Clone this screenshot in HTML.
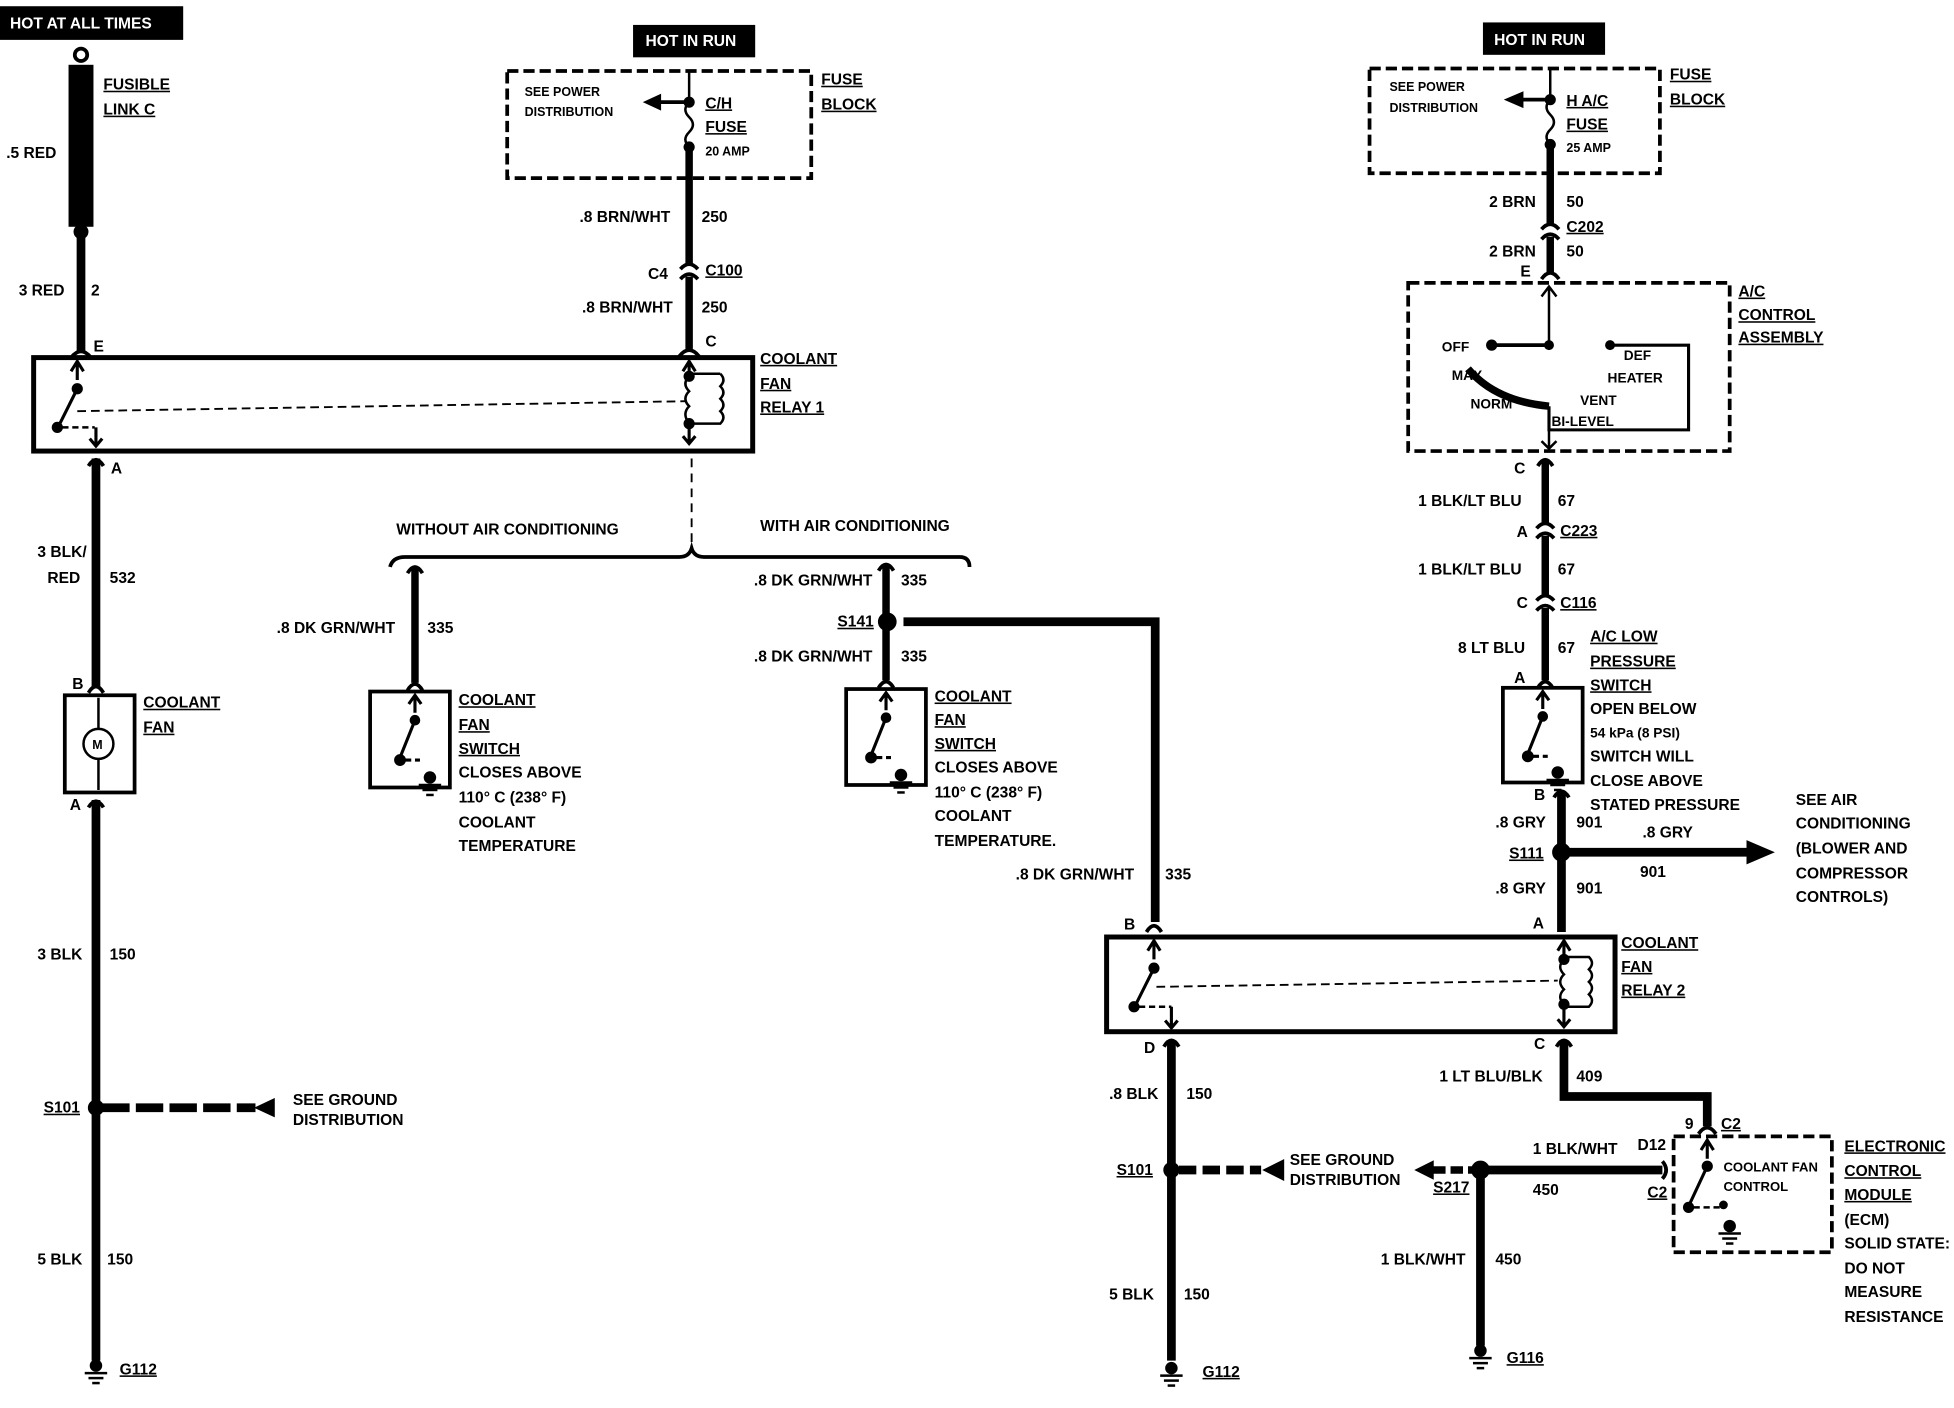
<!DOCTYPE html>
<html><head><meta charset="utf-8"><style>
html,body{margin:0;padding:0;background:#fff}
svg{display:block}
text{font-family:"Liberation Sans",sans-serif;font-weight:bold;font-size:12.5px;fill:#000}
.u{text-decoration:underline}
</style></head><body>
<svg width="1954" height="1408" viewBox="0 0 1568 1130" preserveAspectRatio="none" xmlns="http://www.w3.org/2000/svg">
<defs>
<g id="gnd"><circle cx="0" cy="-6" r="5" fill="#000" stroke="none"/><line x1="-9" y1="0" x2="9" y2="0" stroke="#000" stroke-width="2"/><line x1="-6" y1="4" x2="6" y2="4" stroke="#000" stroke-width="2"/><line x1="-3" y1="8" x2="3" y2="8" stroke="#000" stroke-width="2"/></g>
<g id="conn"><path d="M-8,4 Q0,-6 8,4" fill="none" stroke="#000" stroke-width="3"/></g>
<g id="sw" fill="none" stroke="#000" stroke-width="2.5">
<path d="M0,0 L0,14 M-5,7 L0,0 L5,7"/><circle cx="0" cy="20" r="3" fill="#000"/><path d="M0,20 L-12,50"/><circle cx="-12" cy="52" r="3.5" fill="#000"/><path d="M-8,52 L4,52" stroke-dasharray="5,3"/></g>
</defs>
<g stroke="#000" fill="none">
<rect x="0" y="5" width="147" height="27" fill="#000" stroke="none"/>
<circle cx="65" cy="44" r="5" stroke-width="3"/>
<rect x="55" y="52" width="20" height="130" fill="#000" stroke="none"/>
<circle cx="65" cy="186" r="6" fill="#000" stroke="none"/>
<line x1="65" y1="186" x2="65" y2="282" stroke-width="7"/>
<use href="#conn" x="65" y="283"/>
<rect x="27" y="287" width="577" height="75" stroke-width="4"/>
<line x1="62" y1="330" x2="550" y2="322" stroke-width="1.5" stroke-dasharray="7,4"/>
<path d="M62,290 L62,305 M57,298 L62,290 L67,298" stroke-width="2.5"/>
<circle cx="62" cy="312" r="4" fill="#000"/><line x1="62" y1="312" x2="48" y2="340" stroke-width="2.5"/>
<circle cx="46" cy="343" r="4" fill="#000"/><line x1="50" y1="343" x2="76" y2="343" stroke-width="2" stroke-dasharray="5,3"/>
<path d="M77,343 L77,358 M72,352 L77,358 L82,352" stroke-width="2.5"/>
<path d="M71,374 Q77,364 83,374" stroke-width="3"/>
<line x1="77" y1="368" x2="77" y2="552" stroke-width="7"/>
<path d="M71,556 Q77,546 83,556" stroke-width="3"/>
<rect x="52" y="558" width="56" height="78" stroke-width="3"/>
<circle cx="79" cy="597" r="12" stroke-width="2"/>
<line x1="79" y1="560" x2="79" y2="585" stroke-width="2"/><line x1="79" y1="609" x2="79" y2="634" stroke-width="2"/>
<path d="M71,648 Q77,638 83,648" stroke-width="3"/>
<line x1="77" y1="642" x2="77" y2="1092" stroke-width="7"/>
<circle cx="77" cy="889" r="6" fill="#000"/>
<line x1="82" y1="889" x2="205" y2="889" stroke-width="7" stroke-dasharray="22,5"/>
<path d="M220,882 L205,889 L220,896 Z" fill="#000"/>
<use href="#gnd" x="77" y="1102"/>
<rect x="508" y="20" width="98" height="26" fill="#000" stroke="none"/>
<rect x="407" y="57" width="244" height="86" stroke-width="3" stroke-dasharray="9,4"/>
<line x1="553" y1="57" x2="553" y2="82" stroke-width="2"/>
<circle cx="553" cy="82" r="4" fill="#000"/><circle cx="553" cy="118" r="4" fill="#000"/>
<path d="M553,82 q-6,6 0,12 q6,6 0,12 q-6,6 0,12" stroke-width="2"/>
<line x1="553" y1="82" x2="528" y2="82" stroke-width="3"/><path d="M530,76 L517,82 L530,88 Z" fill="#000"/>
<line x1="553" y1="118" x2="553" y2="212" stroke-width="6"/>
<path d="M546,216 Q553,208 560,216" stroke-width="3"/><path d="M546,224 Q553,216 560,224" stroke-width="3"/>
<line x1="553" y1="222" x2="553" y2="280" stroke-width="6"/>
<use href="#conn" x="553" y="282"/>
<path d="M553,290 L553,305 M548,298 L553,290 L558,298" stroke-width="2.5"/>
<circle cx="553" cy="302" r="4" fill="#000"/><circle cx="553" cy="340" r="4" fill="#000"/>
<path d="M553,302 q-6,6 0,12 q-6,6 0,12 q-6,6 0,14" stroke-width="2"/>
<path d="M553,300 L578,300 M578,300 q5,5 0,10 q5,5 0,10 q5,5 0,10 q5,5 0,10 L553,340" stroke-width="2"/>
<path d="M553,340 L553,356 M548,350 L553,356 L558,350" stroke-width="2.5"/>
<line x1="555" y1="368" x2="555" y2="440" stroke-width="1.5" stroke-dasharray="7,5"/>
<path d="M313,455 Q315,447 325,447 L545,447 Q553,447 555,440 Q557,447 565,447 L770,447 Q778,447 778,455" stroke-width="3"/>
<path d="M327,460 Q333,450 339,460" stroke-width="3"/>
<line x1="333" y1="456" x2="333" y2="548" stroke-width="6"/>
<path d="M327,554 Q333,544 339,554" stroke-width="3"/>
<rect x="297" y="555" width="64" height="77" stroke-width="3"/>
<use href="#sw" x="333" y="558"/>
<use href="#gnd" x="345" y="630"/>
<path d="M705,458 Q711,448 717,458" stroke-width="3"/>
<line x1="711" y1="454" x2="711" y2="546" stroke-width="6"/>
<circle cx="712" cy="499" r="7" fill="#000"/>
<path d="M705,552 Q711,542 717,552" stroke-width="3"/>
<rect x="679" y="553" width="64" height="77" stroke-width="3"/>
<use href="#sw" x="711" y="556"/>
<use href="#gnd" x="723" y="628"/>
<path d="M725,499 L927,499 L927,740" stroke-width="7"/>
<path d="M920,748 Q926,738 932,748" stroke-width="3"/>
<rect x="888" y="752" width="408" height="76" stroke-width="4"/>
<line x1="928" y1="792" x2="1250" y2="787" stroke-width="1.5" stroke-dasharray="7,4"/>
<path d="M926,755 L926,770 M921,763 L926,755 L931,763" stroke-width="2.5"/>
<circle cx="926" cy="777" r="4" fill="#000"/><line x1="926" y1="777" x2="912" y2="805" stroke-width="2.5"/>
<circle cx="910" cy="808" r="4" fill="#000"/><line x1="914" y1="808" x2="940" y2="808" stroke-width="2" stroke-dasharray="5,3"/>
<path d="M940,808 L940,825 M935,819 L940,825 L945,819" stroke-width="2.5"/>
<path d="M1255,755 L1255,770 M1250,763 L1255,755 L1260,763" stroke-width="2.5"/>
<circle cx="1255" cy="770" r="4" fill="#000"/><circle cx="1255" cy="806" r="4" fill="#000"/>
<path d="M1255,770 q-6,6 0,12 q-6,6 0,12 q-6,6 0,12" stroke-width="2"/>
<path d="M1255,768 L1275,768 q5,5 0,10 q5,5 0,10 q5,5 0,10 q5,5 0,10 L1255,808" stroke-width="2"/>
<path d="M1255,808 L1255,824 M1250,818 L1255,824 L1260,818" stroke-width="2.5"/>
<path d="M934,840 Q940,830 946,840" stroke-width="3"/>
<line x1="940" y1="836" x2="940" y2="1092" stroke-width="7"/>
<circle cx="940" cy="939" r="6" fill="#000"/>
<line x1="946" y1="939" x2="1012" y2="939" stroke-width="7" stroke-dasharray="14,5"/>
<path d="M1030,931 L1014,939 L1030,947 Z" fill="#000"/>
<use href="#gnd" x="940" y="1104"/>
<rect x="1190" y="18" width="98" height="26" fill="#000" stroke="none"/>
<rect x="1099" y="55" width="233" height="84" stroke-width="3" stroke-dasharray="9,4"/>
<line x1="1244" y1="55" x2="1244" y2="80" stroke-width="2"/>
<circle cx="1244" cy="80" r="4" fill="#000"/><circle cx="1244" cy="116" r="4" fill="#000"/>
<path d="M1244,80 q-6,6 0,12 q6,6 0,12 q-6,6 0,12" stroke-width="2"/>
<line x1="1244" y1="80" x2="1220" y2="80" stroke-width="3"/><path d="M1222,74 L1208,80 L1222,86 Z" fill="#000"/>
<line x1="1244" y1="116" x2="1244" y2="180" stroke-width="6"/>
<path d="M1237,184 Q1244,176 1251,184" stroke-width="3"/><path d="M1237,192 Q1244,184 1251,192" stroke-width="3"/>
<line x1="1244" y1="190" x2="1244" y2="220" stroke-width="6"/>
<path d="M1237,224 Q1244,214 1251,224" stroke-width="3"/>
<rect x="1130" y="227" width="258" height="135" stroke-width="3" stroke-dasharray="9,4"/>
<path d="M1243,230 L1243,277 M1237,238 L1243,230 L1249,238" stroke-width="2"/>
<line x1="1197" y1="277" x2="1243" y2="277" stroke-width="3"/>
<circle cx="1197" cy="277" r="4" fill="#000"/><circle cx="1243" cy="277" r="3.5" fill="#000"/>
<path d="M1178,296 Q1200,322 1243,326" stroke-width="6"/>
<path d="M1292,277 L1355,277 L1355,345 L1243,345 L1243,326" stroke-width="2.5"/>
<circle cx="1292" cy="277" r="3.5" fill="#000"/>
<path d="M1243,345 L1243,360 M1237,354 L1243,360 L1249,354" stroke-width="2"/>
<path d="M1234,374 Q1240,364 1246,374" stroke-width="3"/>
<line x1="1240" y1="370" x2="1240" y2="420" stroke-width="6"/>
<path d="M1233,424 Q1240,416 1247,424" stroke-width="3"/><path d="M1233,432 Q1240,424 1247,432" stroke-width="3"/>
<line x1="1240" y1="430" x2="1240" y2="478" stroke-width="6"/>
<path d="M1233,482 Q1240,474 1247,482" stroke-width="3"/><path d="M1233,490 Q1240,482 1247,490" stroke-width="3"/>
<line x1="1240" y1="488" x2="1240" y2="546" stroke-width="6"/>
<path d="M1234,552 Q1240,542 1246,552" stroke-width="3"/>
<rect x="1206" y="552" width="64" height="76" stroke-width="3"/>
<use href="#sw" x="1238" y="555"/>
<use href="#gnd" x="1250" y="626"/>
<path d="M1247,640 Q1253,630 1259,640" stroke-width="3"/>
<line x1="1253" y1="636" x2="1253" y2="748" stroke-width="7"/>
<circle cx="1253" cy="684" r="7" fill="#000"/>
<line x1="1258" y1="684" x2="1405" y2="684" stroke-width="7"/>
<path d="M1402,675 L1423,684 L1402,693 Z" fill="#000"/>
<path d="M1249,840 Q1255,830 1261,840" stroke-width="3"/>
<path d="M1255,836 L1255,880 L1370,880 L1370,904" stroke-width="7"/>
<path d="M1363,910 Q1370,900 1377,910" stroke-width="3"/>
<rect x="1343" y="912" width="127" height="93" stroke-width="3" stroke-dasharray="9,4"/>
<path d="M1370,915 L1370,930 M1365,923 L1370,915 L1375,923" stroke-width="2.5"/>
<circle cx="1370" cy="936" r="4" fill="#000"/><line x1="1370" y1="936" x2="1356" y2="966" stroke-width="2.5"/>
<circle cx="1355" cy="969" r="4" fill="#000"/><line x1="1359" y1="969" x2="1380" y2="969" stroke-width="2" stroke-dasharray="5,3"/>
<circle cx="1383" cy="967" r="3" fill="#000"/>
<use href="#gnd" x="1388" y="990"/>
<path d="M1334,932 Q1340,939 1334,946" stroke-width="3"/>
<line x1="1188" y1="939" x2="1334" y2="939" stroke-width="7"/>
<circle cx="1188" cy="939" r="7" fill="#000"/>
<path d="M1150,932 L1136,939 L1150,946 Z" fill="#000"/>
<line x1="1150" y1="939" x2="1182" y2="939" stroke-width="6" stroke-dasharray="10,4"/>
<line x1="1188" y1="939" x2="1188" y2="1080" stroke-width="7"/>
<use href="#gnd" x="1188" y="1090"/>
</g>
<text x="74" y="601" style="font-size:10px">M</text>
<text x="8" y="23" style="fill:#fff">HOT AT ALL TIMES</text>
<text x="83" y="72" class="u">FUSIBLE</text><text x="83" y="92" class="u">LINK C</text>
<text x="5" y="127">.5 RED</text>
<text x="15" y="237">3 RED</text><text x="73" y="237">2</text>
<text x="75" y="282">E</text><text x="89" y="380">A</text>
<text x="30" y="447">3 BLK/</text><text x="38" y="468">RED</text><text x="88" y="468">532</text>
<text x="58" y="553">B</text><text x="115" y="568" class="u">COOLANT</text><text x="115" y="588" class="u">FAN</text>
<text x="56" y="650">A</text>
<text x="30" y="770">3 BLK</text><text x="88" y="770">150</text>
<text x="35" y="893" class="u">S101</text>
<text x="235" y="887">SEE GROUND</text><text x="235" y="903">DISTRIBUTION</text>
<text x="30" y="1015">5 BLK</text><text x="86" y="1015">150</text>
<text x="96" y="1103" class="u">G112</text>
<text x="518" y="37" style="fill:#fff">HOT IN RUN</text>
<text x="421" y="77" style="font-size:10px">SEE POWER</text><text x="421" y="93" style="font-size:10px">DISTRIBUTION</text>
<text x="566" y="87" class="u">C/H</text><text x="566" y="106" class="u">FUSE</text><text x="566" y="125" style="font-size:10px">20 AMP</text>
<text x="659" y="68" class="u">FUSE</text><text x="659" y="88" class="u">BLOCK</text>
<text x="465" y="178">.8 BRN/WHT</text><text x="563" y="178">250</text>
<text x="520" y="224">C4</text><text x="566" y="221" class="u">C100</text>
<text x="467" y="251">.8 BRN/WHT</text><text x="563" y="251">250</text>
<text x="566" y="278">C</text>
<text x="610" y="292" class="u">COOLANT</text><text x="610" y="312" class="u">FAN</text><text x="610" y="331" class="u">RELAY 1</text>
<text x="318" y="429">WITHOUT AIR CONDITIONING</text><text x="610" y="426">WITH AIR CONDITIONING</text>
<text x="222" y="508">.8 DK GRN/WHT</text><text x="343" y="508">335</text>
<text x="368" y="566" class="u">COOLANT</text><text x="368" y="586" class="u">FAN</text><text x="368" y="605" class="u">SWITCH</text>
<text x="368" y="624">CLOSES ABOVE</text><text x="368" y="644">110° C (238° F)</text><text x="368" y="664">COOLANT</text><text x="368" y="683">TEMPERATURE</text>
<text x="605" y="470">.8 DK GRN/WHT</text><text x="723" y="470">335</text>
<text x="672" y="503" class="u">S141</text>
<text x="605" y="531">.8 DK GRN/WHT</text><text x="723" y="531">335</text>
<text x="750" y="563" class="u">COOLANT</text><text x="750" y="582" class="u">FAN</text><text x="750" y="601" class="u">SWITCH</text>
<text x="750" y="620">CLOSES ABOVE</text><text x="750" y="640">110° C (238° F)</text><text x="750" y="659">COOLANT</text><text x="750" y="679">TEMPERATURE.</text>
<text x="815" y="706">.8 DK GRN/WHT</text><text x="935" y="706">335</text>
<text x="902" y="746">B</text><text x="918" y="845">D</text>
<text x="1301" y="761" class="u">COOLANT</text><text x="1301" y="780" class="u">FAN</text><text x="1301" y="799" class="u">RELAY 2</text>
<text x="890" y="882">.8 BLK</text><text x="952" y="882">150</text>
<text x="896" y="943" class="u">S101</text>
<text x="1035" y="935">SEE GROUND</text><text x="1035" y="951">DISTRIBUTION</text>
<text x="890" y="1043">5 BLK</text><text x="950" y="1043">150</text>
<text x="965" y="1105" class="u">G112</text>
<text x="1199" y="36" style="fill:#fff">HOT IN RUN</text>
<text x="1115" y="73" style="font-size:10px">SEE POWER</text><text x="1115" y="90" style="font-size:10px">DISTRIBUTION</text>
<text x="1257" y="85" class="u">H A/C</text><text x="1257" y="104" class="u">FUSE</text><text x="1257" y="122" style="font-size:10px">25 AMP</text>
<text x="1340" y="64" class="u">FUSE</text><text x="1340" y="84" class="u">BLOCK</text>
<text x="1195" y="166">2 BRN</text><text x="1257" y="166">50</text>
<text x="1257" y="186" class="u">C202</text>
<text x="1195" y="206">2 BRN</text><text x="1257" y="206">50</text>
<text x="1220" y="222">E</text>
<text x="1395" y="238" class="u">A/C</text><text x="1395" y="257" class="u">CONTROL</text><text x="1395" y="275" class="u">ASSEMBLY</text>
<text x="1157" y="282" style="font-size:11px">OFF</text><text x="1165" y="305" style="font-size:11px">MAX</text><text x="1180" y="328" style="font-size:11px">NORM</text>
<text x="1303" y="289" style="font-size:11px">DEF</text><text x="1290" y="307" style="font-size:11px">HEATER</text>
<text x="1268" y="325" style="font-size:11px">VENT</text><text x="1245" y="342" style="font-size:11px">BI-LEVEL</text>
<text x="1215" y="380">C</text>
<text x="1138" y="406">1 BLK/LT BLU</text><text x="1250" y="406">67</text>
<text x="1217" y="431">A</text><text x="1252" y="430" class="u">C223</text>
<text x="1138" y="461">1 BLK/LT BLU</text><text x="1250" y="461">67</text>
<text x="1217" y="488">C</text><text x="1252" y="488" class="u">C116</text>
<text x="1170" y="524">8 LT BLU</text><text x="1250" y="524">67</text>
<text x="1215" y="548">A</text>
<text x="1276" y="515" class="u">A/C LOW</text><text x="1276" y="535" class="u">PRESSURE</text><text x="1276" y="554" class="u">SWITCH</text>
<text x="1276" y="573">OPEN BELOW</text><text x="1276" y="592" style="font-size:11px">54 kPa (8 PSI)</text><text x="1276" y="611">SWITCH WILL</text>
<text x="1276" y="631">CLOSE ABOVE</text><text x="1276" y="650">STATED PRESSURE</text>
<text x="1231" y="642">B</text>
<text x="1200" y="664">.8 GRY</text><text x="1265" y="664">901</text>
<text x="1211" y="689" class="u">S111</text>
<text x="1318" y="672">.8 GRY</text><text x="1316" y="704">901</text>
<text x="1200" y="717">.8 GRY</text><text x="1265" y="717">901</text>
<text x="1230" y="745">A</text>
<text x="1441" y="646">SEE AIR</text><text x="1441" y="665">CONDITIONING</text><text x="1441" y="685">(BLOWER AND</text><text x="1441" y="705">COMPRESSOR</text><text x="1441" y="724">CONTROLS)</text>
<text x="1231" y="842">C</text>
<text x="1155" y="868">1 LT BLU/BLK</text><text x="1265" y="868">409</text>
<text x="1352" y="906">9</text><text x="1381" y="906" class="u">C2</text>
<text x="1314" y="923">D12</text><text x="1322" y="961" class="u">C2</text>
<text x="1383" y="940" style="font-size:10.5px">COOLANT FAN</text><text x="1383" y="956" style="font-size:10.5px">CONTROL</text>
<text x="1230" y="926">1 BLK/WHT</text><text x="1230" y="959">450</text>
<text x="1150" y="957" class="u">S217</text>
<text x="1108" y="1015">1 BLK/WHT</text><text x="1200" y="1015">450</text>
<text x="1209" y="1094" class="u">G116</text>
<text x="1480" y="924" class="u">ELECTRONIC</text><text x="1480" y="944" class="u">CONTROL</text><text x="1480" y="963" class="u">MODULE</text>
<text x="1480" y="983">(ECM)</text><text x="1480" y="1002">SOLID STATE:</text><text x="1480" y="1022">DO NOT</text><text x="1480" y="1041">MEASURE</text><text x="1480" y="1061">RESISTANCE</text>
</svg>
</body></html>
